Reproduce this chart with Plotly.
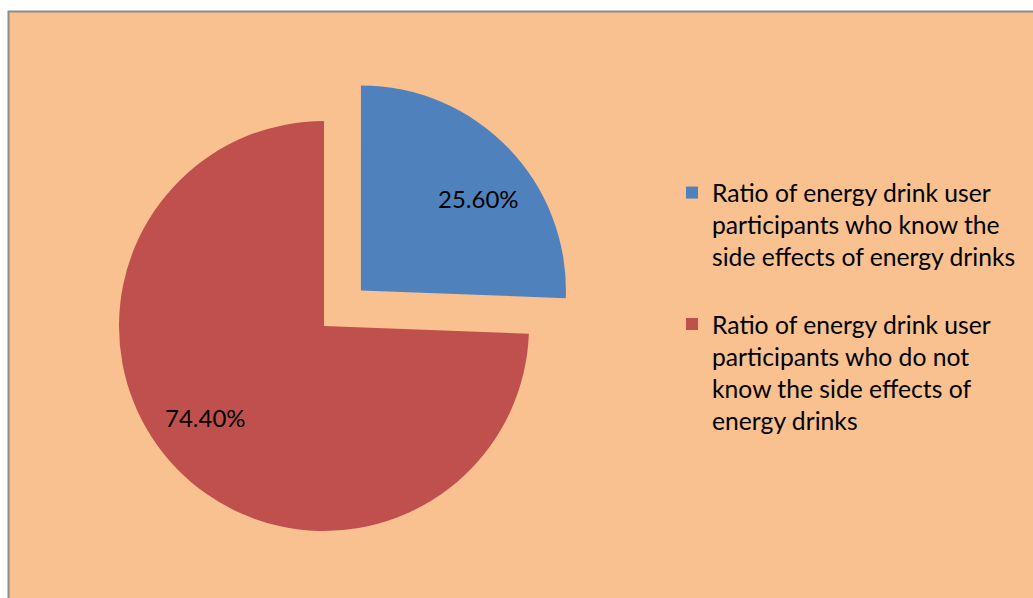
import math
import plotly.graph_objects as go

# Energy drink users: awareness of side effects
labels = [
    "Ratio of energy drink user<br>participants who know the<br>side effects of energy drinks<br> ",
    "Ratio of energy drink user<br>participants who do not<br>know the side effects of<br>energy drinks",
]
values = [25.6, 74.4]
colors = ["#4F81BD", "#C0504D"]
pulls = [0.25, 0]

W, H = 1033, 598
FONT = "Lato"

# pie placement (pixels)
DOM_X = (67.75, 580.25)
DOM_Y_TOP = (69.75, 582.25)  # measured from the top edge
LABEL_R = 0.73               # label distance from slice apex, as a fraction of radius
LABEL_TWIST = 6.0            # degrees, clockwise

fig = go.Figure(
    go.Pie(
        labels=labels,
        values=values,
        sort=False,
        direction="clockwise",
        rotation=0,
        pull=pulls,
        marker=dict(colors=colors, line=dict(width=0)),
        textinfo="none",
        hoverinfo="skip",
        domain=dict(
            x=[DOM_X[0] / W, DOM_X[1] / W],
            y=[1 - DOM_Y_TOP[1] / H, 1 - DOM_Y_TOP[0] / H],
        ),
    )
)

# percentage labels placed along each slice's bisector
cx = (DOM_X[0] + DOM_X[1]) / 2
cy = (DOM_Y_TOP[0] + DOM_Y_TOP[1]) / 2
r = min(DOM_X[1] - DOM_X[0], DOM_Y_TOP[1] - DOM_Y_TOP[0]) / (2 + 2 * max(pulls))
total = sum(values)
start = 0.0
annotations = []
for v, p in zip(values, pulls):
    span = 360.0 * v / total
    mid = math.radians(start + span / 2)
    ax = cx + p * r * math.sin(mid)
    ay = cy - p * r * math.cos(mid)
    la = mid + math.radians(LABEL_TWIST)
    lx = ax + LABEL_R * r * math.sin(la)
    ly = ay - LABEL_R * r * math.cos(la)
    annotations.append(
        dict(
            x=lx / W,
            y=1 - ly / H,
            xref="paper",
            yref="paper",
            text=f"{v:.2f}%",
            showarrow=False,
            xanchor="center",
            yanchor="middle",
            font=dict(family=FONT, size=24, color="#000000"),
        )
    )
    start += span

fig.update_layout(
    width=W,
    height=H,
    margin=dict(l=0, r=0, t=0, b=0),
    paper_bgcolor="#FFFFFF",
    font=dict(family=FONT, color="#000000"),
    showlegend=True,
    legend=dict(
        x=672 / W,
        y=1 - 170 / H,
        xanchor="left",
        yanchor="top",
        bgcolor="rgba(0,0,0,0)",
        font=dict(family=FONT, size=24.7, color="#000000"),
        valign="top",
        itemclick=False,
        itemdoubleclick=False,
    ),
    annotations=annotations,
    shapes=[
        dict(
            type="rect",
            xref="paper",
            yref="paper",
            x0=8.5 / W,
            x1=1.02,
            y0=-0.02,
            y1=1 - 11.5 / H,
            fillcolor="#F9C090",
            line=dict(color="#8C8C8C", width=2),
            layer="below",
        )
    ],
)

fig.write_html("out.html")
